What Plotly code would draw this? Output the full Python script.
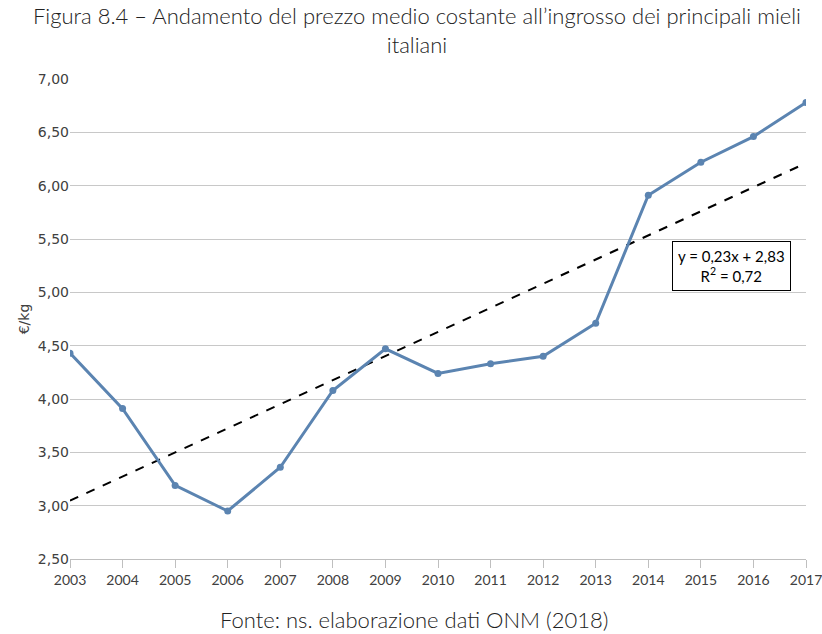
import numpy as np
import plotly.graph_objects as go

years = [2003, 2004, 2005, 2006, 2007, 2008, 2009, 2010,
         2011, 2012, 2013, 2014, 2015, 2016, 2017]
prices = [4.43, 3.91, 3.19, 2.95, 3.36, 4.08, 4.47, 4.24,
          4.33, 4.40, 4.71, 5.91, 6.22, 6.46, 6.78]

title_text = ("Figura 8.4 – Andamento del prezzo medio costante all’ingrosso "
              "dei principali mieli<br>italiani")
source_text = "Fonte: ns. elaborazione dati ONM (2018)"
trend_label = "y = 0,23x + 2,83<br>R<sup>2</sup> = 0,72"

# linear trend on the series index (1..n), as in the spreadsheet
idx = np.arange(1, len(prices) + 1)
slope, intercept = np.polyfit(idx, prices, 1)
trend = slope * idx + intercept

txt_font = "Lato"

fig = go.Figure()

fig.add_trace(go.Scatter(
    x=years, y=trend, mode="lines",
    line=dict(color="black", width=2, dash="dash"),
    hoverinfo="skip", showlegend=False,
))

fig.add_trace(go.Scatter(
    x=years, y=prices, mode="lines+markers",
    line=dict(color="#5b84b1", width=3),
    marker=dict(size=7, color="#5b84b1"),
    showlegend=False,
))

fig.add_annotation(
    x=2015.59, y=5.245, xref="x", yref="y",
    text=trend_label, showarrow=False, align="center",
    font=dict(family=txt_font, size=15, color="black"),
    bordercolor="black", borderwidth=1, borderpad=5, bgcolor="white",
)

# title as an annotation so both lines stay inside the page
fig.add_annotation(
    x=0.4715, y=1.1646, xref="paper", yref="paper",
    text=title_text, showarrow=False, yanchor="top", align="center",
    font=dict(family=txt_font, size=22, color="#222222", weight=300),
)

fig.add_annotation(
    x=0.467, y=-0.127, xref="paper", yref="paper",
    text=source_text, showarrow=False, yanchor="middle",
    font=dict(family=txt_font, size=22, color="#222222", weight=300),
)

fig.update_layout(
    width=822, height=634,
    margin=dict(l=70, r=16, t=79, b=75),
    paper_bgcolor="white", plot_bgcolor="white",
    separators=",.",
    xaxis=dict(
        range=[2003, 2017], tickmode="array", tickvals=years,
        ticks="outside", ticklen=8, tickcolor="#bfbfbf",
        showline=True, linecolor="#bfbfbf", linewidth=1,
        showgrid=False, zeroline=False, automargin=False,
        ticklabeloverflow="allow",
        tickfont=dict(family=txt_font, size=14, color="#404040"),
    ),
    yaxis=dict(
        range=[2.5, 7.0], dtick=0.5, tickformat=".2f",
        showgrid=True, gridcolor="#c8c8c8", gridwidth=1,
        zeroline=False, showline=False, ticks="", automargin=False,
        tickfont=dict(family="DejaVu Sans", size=14, color="#404040"),
        title=dict(text="€/kg", standoff=4,
                   font=dict(family="DejaVu Sans", size=14, color="#404040")),
    ),
)

# drop the default 8px body margin so the figure fills the window exactly
fig.write_html("out.html",
               config={"displayModeBar": False},
               post_script="document.body.style.margin='0';")
